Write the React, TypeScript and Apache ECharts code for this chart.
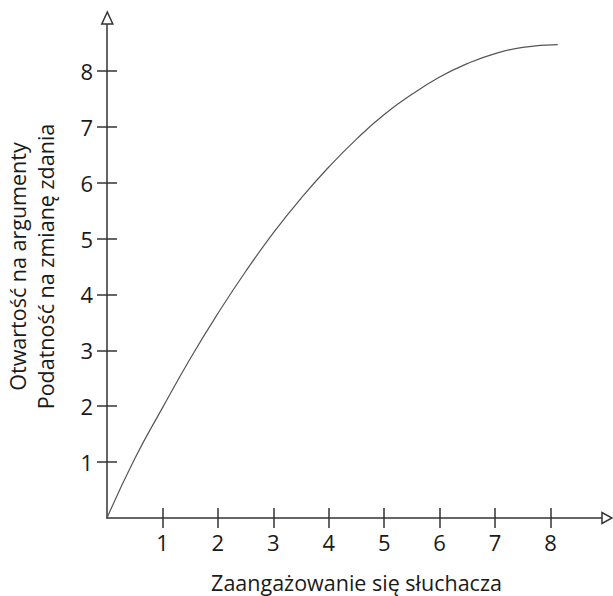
import React, { useEffect, useRef } from "react";
import * as echarts from "echarts";

const xValues = [0, 0.5, 1, 1.5, 2, 2.5, 3, 3.5, 4, 4.5, 5, 5.5, 6, 6.5, 7, 7.5, 8.13];
const yValues = [0, 1.06, 1.97, 2.85, 3.66, 4.41, 5.1, 5.72, 6.28, 6.78, 7.22, 7.58, 7.89, 8.13, 8.31, 8.42, 8.47];
const tickValues = [1, 2, 3, 4, 5, 6, 7, 8];
const xTitle = "Zaangażowanie się słuchacza";
const yTitleLines = ["Otwartość na argumenty", "Podatność na zmianę zdania"];

const FONT = "Open Sans";
const AX = "#333333";
const TXT = "#1a1a1a";

export default function App() {
  const ref = useRef<HTMLDivElement>(null);
  useEffect(() => {
    if (!ref.current) return;
    const chart = echarts.init(ref.current, undefined, { renderer: "svg" });
    const data = xValues.map((x, i) => [x, yValues[i]]);
    const baseX = {
      type: "value",
      min: 0,
      max: 9,
      interval: 1,
      splitLine: { show: false },
    };
    const baseY = { ...baseX };
    chart.setOption({
      animation: false,
      backgroundColor: "#ffffff",
      grid: { left: 107, top: 15, right: 7, bottom: 78, containLabel: false, outerBoundsMode: "none" },
      xAxis: [
        {
          ...baseX,
          position: "bottom",
          axisLine: { show: true, lineStyle: { color: AX, width: 1.5 } },
          axisTick: { show: true, length: 10, customValues: tickValues, lineStyle: { color: AX, width: 1.5 } },
          axisLabel: { show: true, customValues: tickValues, margin: 13, color: TXT, fontFamily: FONT, fontSize: 22 },
          name: xTitle,
          nameLocation: "middle",
          nameGap: 51,
          nameTextStyle: { color: TXT, fontFamily: FONT, fontSize: 21.5, lineHeight: 26 },
        },
        {
          ...baseX,
          position: "bottom",
          axisLine: { show: false },
          axisTick: { show: true, inside: true, length: 10, customValues: tickValues, lineStyle: { color: AX, width: 1.5 } },
          axisLabel: { show: false },
        },
      ],
      yAxis: [
        {
          ...baseY,
          position: "left",
          axisLine: { show: true, lineStyle: { color: AX, width: 1.5 } },
          axisTick: { show: true, length: 10, customValues: tickValues, lineStyle: { color: AX, width: 1.5 } },
          axisLabel: { show: true, customValues: tickValues, margin: 14, color: TXT, fontFamily: FONT, fontSize: 22 },
          name: yTitleLines.join("\n"),
          nameLocation: "middle",
          nameGap: 48,
          nameTextStyle: { color: TXT, fontFamily: FONT, fontSize: 21.5, lineHeight: 28 },
        },
        {
          ...baseY,
          position: "left",
          axisLine: { show: false },
          axisTick: { show: true, inside: true, length: 10, customValues: tickValues, lineStyle: { color: AX, width: 1.5 } },
          axisLabel: { show: false },
        },
      ],
      series: [
        {
          type: "line",
          data,
          smooth: true,
          showSymbol: false,
          lineStyle: { color: "#555555", width: 1.2 },
          xAxisIndex: 0,
          yAxisIndex: 0,
        },
      ],
      graphic: [
        {
          type: "polygon",
          shape: { points: [[101.8, 24], [112.8, 24], [107.3, 12]] },
          style: { fill: "#ffffff", stroke: AX, lineWidth: 1.5 },
          z: 100,
        },
        {
          type: "polygon",
          shape: { points: [[602, 512.6], [602, 523.4], [612, 518]] },
          style: { fill: "#ffffff", stroke: AX, lineWidth: 1.5 },
          z: 100,
        },
      ],
    });
    return () => chart.dispose();
  }, []);
  return (
    <div
      ref={ref}
      style={{ position: "fixed", left: 0, top: 0, width: 613, height: 596, background: "#fff" }}
    />
  );
}
